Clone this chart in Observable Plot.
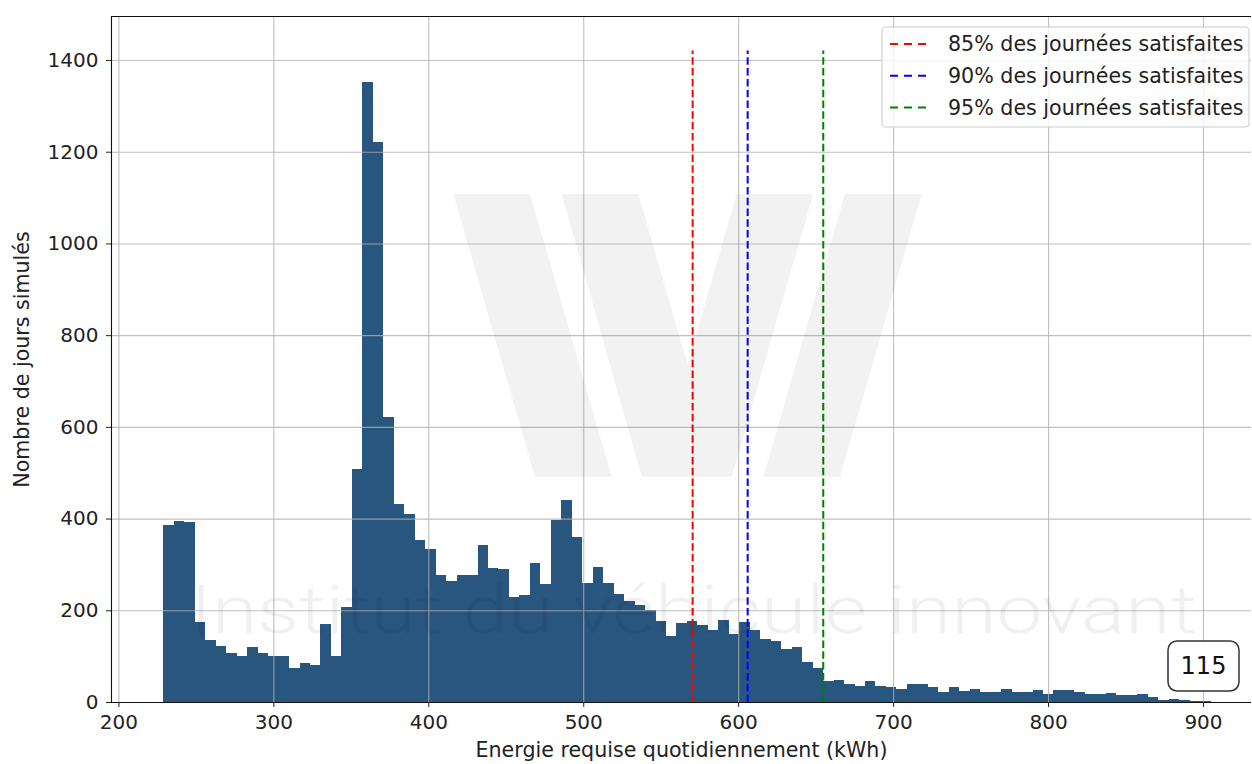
<!DOCTYPE html>
<html><head><meta charset="utf-8">
<script src="https://cdn.jsdelivr.net/npm/d3@7"></script>
<script src="https://cdn.jsdelivr.net/npm/@observablehq/plot@0.6"></script>
<style>
body{margin:0;background:#fff;}
#wrap{position:relative;width:1252px;height:764px;overflow:hidden;}
#overlay{position:absolute;left:0;top:0;pointer-events:none;}
</style></head><body><div id="wrap"></div>
<script>
// ---- data ----
const binStart = 229.0;     // kWh, left edge of first bin
const binWidth = 6.759;     // kWh, width of each of the 100 bins
const counts = [
  387, 395, 392, 175, 136, 123, 107, 101, 120, 107,
  101, 101, 74, 85, 81, 171, 101, 207, 508, 1353,
  1222, 621, 431, 409, 354, 334, 276, 263, 276, 276,
  343, 293, 289, 230, 234, 304, 257, 396, 441, 360,
  260, 294, 260, 236, 220, 211, 200, 177, 143, 172,
  176, 167, 156, 178, 149, 174, 158, 138, 133, 116,
  120, 87, 75, 45, 49, 39, 35, 45, 35, 33,
  28, 40, 40, 33, 21, 33, 25, 28, 22, 22,
  29, 22, 22, 26, 18, 26, 26, 22, 17, 17,
  20, 15, 15, 17, 11, 4, 7, 4, 3, 2
];
const percentileLabels = ["85% des journées satisfaites", "90% des journées satisfaites", "95% des journées satisfaites"];
const percentileValues = [570.3, 605.8, 654.6];
const percentileColors = ["#ff0000", "#0000ff", "#008000"];
const xTicks = [200, 300, 400, 500, 600, 700, 800, 900];
const yTicks = [0, 200, 400, 600, 800, 1000, 1200, 1400];
const xLabel = "Energie requise quotidiennement (kWh)";
const yLabel = "Nombre de jours simulés";
const pageNumber = "115";
const watermarkText = "Institut du véhicule innovant";

// ---- build ----
const bars = counts.map((c, i) => ({x1: binStart + i * binWidth, x2: binStart + (i + 1) * binWidth, count: c}));
const percentiles = percentileValues.map((v, i) => ({value: v, label: percentileLabels[i], color: percentileColors[i]}));
const xDomain = [195.2, 931];
const yDomain = [0, 1496];
const vTop = d3.max(counts) * 1.05;
const barColor = "#29567f";
const gridStyle = {stroke: "#b0b0b0", strokeOpacity: 0.8, strokeWidth: 1.1};
const dash = "7.5,3.3";

const chart = Plot.plot({
  width: 1252, height: 764,
  marginLeft: 111, marginRight: 1, marginTop: 16, marginBottom: 62,
  style: {fontFamily: "DejaVu Sans", fontSize: "20px", color: "#222", background: "white"},
  x: {domain: xDomain, label: null},
  y: {domain: yDomain, label: null},
  marks: [
    Plot.rectY(bars, {x1: "x1", x2: "x2", y: "count", fill: barColor, shapeRendering: "crispEdges"}),
    Plot.gridX(xTicks, gridStyle),
    Plot.gridY(yTicks, gridStyle),
    ...percentiles.map(p => Plot.ruleX([p.value], {y1: 0, y2: vTop, stroke: p.color, strokeWidth: 2, strokeDasharray: dash})),
    Plot.ruleY([yDomain[0]], {stroke: "#111", strokeWidth: 1.1}),
    Plot.ruleY([yDomain[1]], {stroke: "#111", strokeWidth: 1.1}),
    Plot.ruleX([xDomain[0]], {stroke: "#111", strokeWidth: 1.1}),
    Plot.axisX(xTicks, {tickSize: 5, tickPadding: 7, fontSize: 20, tickFormat: d3.format("d")}),
    Plot.axisX({ticks: [], tickSize: 0, fontSize: 20.6,
      label: xLabel, labelAnchor: "center", labelArrow: "none", labelOffset: 54}),
    Plot.axisY(yTicks, {tickSize: 5, tickPadding: 8, fontSize: 20, tickFormat: d3.format("d")}),
    Plot.axisY({ticks: [], tickSize: 0, fontSize: 20.6,
      label: yLabel, labelAnchor: "center", labelArrow: "none", labelOffset: 97})
  ]
});
const wrap = document.getElementById("wrap");
wrap.appendChild(chart);

// ---- overlay: watermark, legend, page number ----
const ov = d3.select(wrap).append("svg").attr("id", "overlay").attr("width", 1252).attr("height", 764);
const logo = [
  [[453.3,194],[530,194],[611.7,476.7],[535,476.7]],
  [[561.7,194],[638.3,194],[720,476.7],[641.7,476.7]],
  [[736.7,194],[813.3,194],[731.7,476.7],[655,476.7]],
  [[845,194],[921.7,194],[840,476.7],[763.3,476.7]]
];
ov.append("path")
  .attr("d", logo.map(p => "M" + p.map(q => q.join(",")).join("L") + "Z").join(""))
  .attr("fill", "#000").attr("fill-opacity", 0.05);
ov.append("text").text(watermarkText)
  .attr("x", 190).attr("y", 633)
  .attr("textLength", 1007).attr("lengthAdjust", "spacingAndGlyphs")
  .attr("font-family", "Roboto, 'Open Sans', sans-serif").attr("font-weight", 300)
  .attr("font-size", 67).attr("fill", "#000").attr("fill-opacity", 0.06);

const lg = ov.append("g");
lg.append("rect").attr("x", 882).attr("y", 27).attr("width", 367).attr("height", 100).attr("rx", 4)
  .attr("fill", "white").attr("fill-opacity", 0.8).attr("stroke", "#cccccc").attr("stroke-width", 1.1);
percentiles.forEach((p, i) => {
  const y = 44 + i * 31.7;
  lg.append("line").attr("x1", 890).attr("x2", 931).attr("y1", y).attr("y2", y)
    .attr("stroke", p.color).attr("stroke-width", 2).attr("stroke-dasharray", "8,6");
  lg.append("text").text(p.label).attr("x", 948).attr("y", y).attr("dy", "0.35em")
    .attr("font-family", "DejaVu Sans").attr("font-size", 20.6).attr("fill", "#222");
});

const pg = ov.append("g");
pg.append("rect").attr("x", 1168).attr("y", 641).attr("width", 71).attr("height", 50).attr("rx", 9)
  .attr("fill", "white").attr("stroke", "#333").attr("stroke-width", 1.5);
pg.append("text").text(pageNumber).attr("x", 1203.5).attr("y", 666).attr("dy", "0.35em")
  .attr("text-anchor", "middle").attr("font-family", "DejaVu Sans").attr("font-size", 24).attr("fill", "#111");
</script></body></html>
